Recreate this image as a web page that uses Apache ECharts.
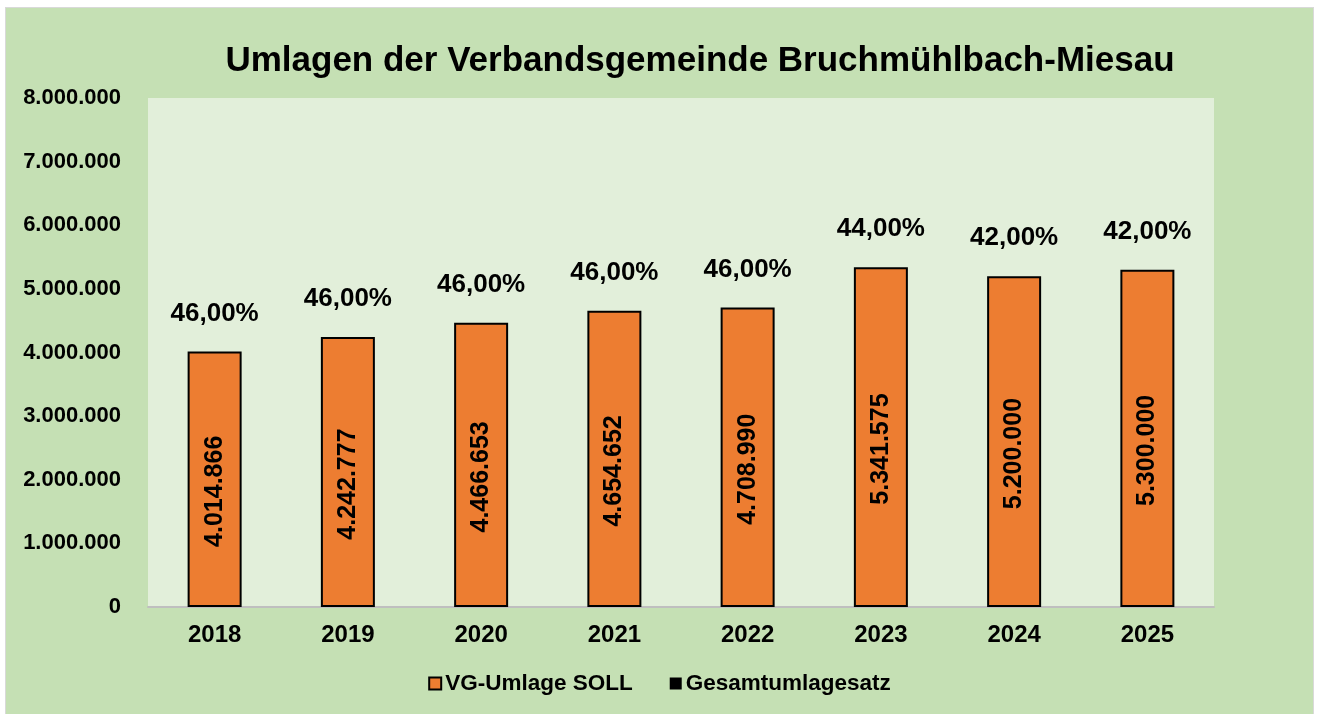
<!DOCTYPE html>
<html>
<head>
<meta charset="utf-8">
<script src="https://cdn.jsdelivr.net/npm/echarts@6/dist/echarts.min.js"></script>
<style>
	html, body { margin: 0; padding: 0; background: #ffffff; }
	#chart {
		position: absolute; left: 5px; top: 7px;
		width: 1307px; height: 706px;
		background: #C5E0B4;
		border: 1px solid #d9d9d9;
	}
</style>
</head>
<body>
<div id="chart"></div>
<script>
	var years = ['2018', '2019', '2020', '2021', '2022', '2023', '2024', '2025'];
	var umlage = [4014866, 4242777, 4466653, 4654652, 4708990, 5341575, 5200000, 5300000];
	var umlagesatz = [46, 46, 46, 46, 46, 44, 42, 42];

	// Zahlen im deutschen Format
	function fmtDe(v) {
		return String(Math.round(v)).replace(/\B(?=(\d{3})+(?!\d))/g, '.');
	}
	function fmtPct(v) {
		return v.toFixed(2).replace('.', ',') + '%';
	}

	var myChart = echarts.init(document.getElementById('chart'));
	var font = 'Liberation Sans, Arial, sans-serif';

	var option = {
		textStyle: { fontFamily: font },
		title: {
			text: 'Umlagen der Verbandsgemeinde Bruchmühlbach-Miesau',
			left: 689, top: 31, textAlign: 'center',
			textStyle: { fontSize: 35, fontWeight: 'bold', color: '#000', fontFamily: font }
		},
		legend: {
			bottom: 14,
			left: 'center',
			itemWidth: 12, itemHeight: 12, itemGap: 37,
			textStyle: { fontSize: 22.5, fontWeight: 'bold', color: '#000', fontFamily: font, padding: [0, 0, 0, -1] },
			data: [
				{ name: 'VG-Umlage SOLL', icon: 'rect', itemStyle: { color: '#ED7D31', borderColor: '#000', borderWidth: 2 } },
				{ name: 'Gesamtumlagesatz', icon: 'rect', itemStyle: { color: '#000', borderColor: '#000', borderWidth: 0 } }
			]
		},
		grid: {
			left: 142, right: 99, top: 90, bottom: 107,
			show: true, backgroundColor: '#E2EFDA', borderWidth: 0
		},
		xAxis: {
			type: 'category',
			data: years,
			axisLine: { lineStyle: { color: '#bfbfbf', width: 2 } },
			axisTick: { show: false },
			axisLabel: { fontSize: 24, fontWeight: 'bold', color: '#000', margin: 16, fontFamily: font }
		},
		yAxis: {
			type: 'value',
			min: 0, max: 8000000, interval: 1000000,
			splitLine: { show: false },
			axisLine: { show: false },
			axisTick: { show: false },
			axisLabel: {
				fontSize: 22, fontWeight: 'bold', color: '#000', margin: 27, fontFamily: font,
				formatter: function(v) { return fmtDe(v); }
			}
		},
		series: [
			{
				name: 'VG-Umlage SOLL',
				type: 'bar',
				data: umlage,
				barWidth: 54,
				itemStyle: { color: '#ED7D31', borderColor: '#000', borderWidth: 2 },
				label: {
					show: true,
					position: 'inside',
					rotate: 90,
					offset: [-12, 0],
					fontSize: 25, fontWeight: 'bold', color: '#000', fontFamily: font,
					formatter: function(p) { return fmtDe(p.value); }
				}
			},
			{
				name: 'Gesamtumlagesatz',
				type: 'line',
				data: umlage,
				symbol: 'circle',
				symbolSize: 0,
				showSymbol: true,
				lineStyle: { opacity: 0 },
				itemStyle: { color: '#000' },
				label: {
					show: true,
					position: 'top',
					distance: 25,
					fontSize: 26, fontWeight: 'bold', color: '#000', fontFamily: font,
					formatter: function(p) { return fmtPct(umlagesatz[p.dataIndex]); }
				},
				z: 5
			}
		]
	};
	myChart.setOption(option);
</script>
</body>
</html>
